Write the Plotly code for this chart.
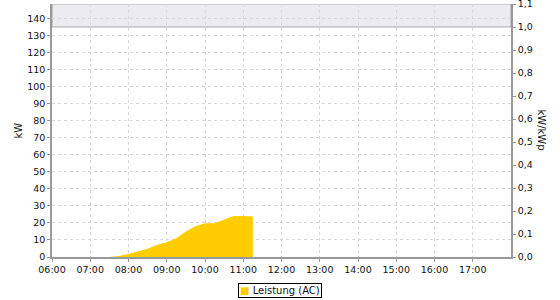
import plotly.graph_objects as go

# data
times = ["07:30", "07:45", "08:00", "08:15", "08:30", "08:45", "09:00", "09:15",
         "09:30", "09:45", "10:00", "10:15", "10:30", "10:45", "11:00", "11:15"]
power_kw = [0.0, 0.6, 1.8, 3.2, 4.8, 7.2, 8.6, 11.0,
            15.0, 18.0, 19.8, 19.8, 21.8, 24.0, 24.1, 23.7]
hour_ticks = ["06:00", "07:00", "08:00", "09:00", "10:00", "11:00",
              "12:00", "13:00", "14:00", "15:00", "16:00", "17:00"]
kw_ticks = list(range(0, 141, 10))
ratio_ticks = [0.0, 0.1, 0.2, 0.3, 0.4, 0.5, 0.6, 0.7, 0.8, 0.9, 1.0, 1.1]
kwp = 135.0
series_name = "Leistung (AC)"

DAY = "2024-06-01 "
x_vals = [DAY + t for t in times]
tick_vals = [DAY + t for t in hour_ticks]

axis_color = "#999999"
grid_color = "#d8d8d8"
yellow = "#ffcc00"
font = dict(family="DejaVu Sans", size=9.5, color="#111111")

fig = go.Figure()
fig.add_trace(go.Scatter(
    x=x_vals, y=power_kw, name=series_name, mode="lines",
    line=dict(width=0, color=yellow), fill="tozeroy", fillcolor=yellow,
    showlegend=False,
))
# invisible trace to activate right axis
fig.add_trace(go.Scatter(x=[x_vals[0]], y=[0], yaxis="y2", mode="markers",
                         marker=dict(opacity=0), showlegend=False, hoverinfo="skip"))

top = kwp * ratio_ticks[-1]
dash = "3px,3px"

fig.update_layout(
    width=560, height=300,
    margin=dict(l=52, r=49, t=4, b=43, autoexpand=False),
    paper_bgcolor="white", plot_bgcolor="white",
    separators=",.",
    font=font,
    showlegend=False,
    xaxis=dict(
        type="date", range=[DAY + "06:00", DAY + "18:00"],
        tickvals=tick_vals, tickformat="%H:%M",
        showgrid=True, gridcolor=grid_color, griddash=dash, gridwidth=1,
        showline=True, linecolor=axis_color, linewidth=1.5,
        ticks="outside", ticklen=3, tickcolor=axis_color,
        tickfont=font, zeroline=False,
    ),
    yaxis=dict(
        range=[0, top], tickvals=kw_ticks,
        showgrid=True, gridcolor=grid_color, griddash=dash, gridwidth=1,
        showline=True, linecolor=axis_color, linewidth=1.5,
        ticks="outside", ticklen=3, tickcolor=axis_color,
        tickfont=font, zeroline=False,
    ),
    yaxis2=dict(
        overlaying="y", side="right", range=[0, ratio_ticks[-1]],
        tickvals=ratio_ticks, tickformat=".1f", ticklabeloverflow="allow",
        showgrid=False, showline=True, linecolor=axis_color, linewidth=1.5,
        ticks="outside", ticklen=3, tickcolor=axis_color,
        tickfont=font, zeroline=False,
    ),
    shapes=[dict(
        type="rect", xref="paper", yref="y", x0=0, x1=1, y0=kwp, y1=top,
        fillcolor="#ecebef", line=dict(color="#aaaaaa", width=1.2), layer="below",
    )],
    annotations=[
        dict(text="kW", xref="paper", yref="paper", x=-0.074, y=0.5,
             xanchor="center", yanchor="middle", textangle=-90, showarrow=False,
             font=dict(family="DejaVu Sans", size=10, color="#111111")),
        dict(text="kW/kWp", xref="paper", yref="paper", x=1.0675, y=0.5,
             xanchor="center", yanchor="middle", textangle=90, showarrow=False,
             font=dict(family="DejaVu Sans", size=10, color="#111111")),
        # legend box
        dict(text="<span style='color:%s'>■</span> %s" % (yellow, series_name),
             xref="paper", yref="paper", x=0.496, y=-0.1324,
             xanchor="center", yanchor="middle", showarrow=False,
             bordercolor="#000000", borderwidth=1, borderpad=1, bgcolor="white",
             font=dict(family="DejaVu Sans", size=10, color="#111111")),
    ],
)

fig.write_html("out.html")
